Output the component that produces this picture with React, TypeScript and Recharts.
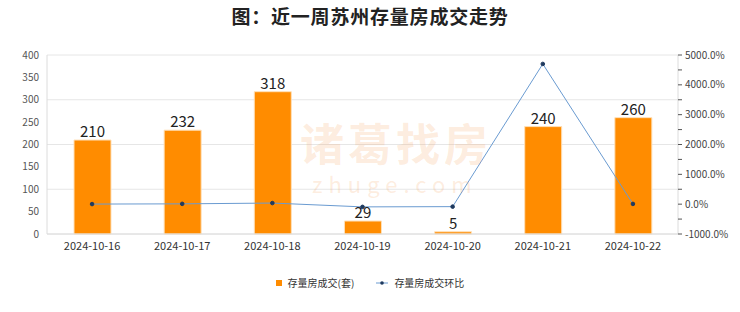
import {
  Bar,
  CartesianGrid,
  ComposedChart,
  LabelList,
  Legend,
  Line,
  XAxis,
  YAxis,
} from "recharts";

const dates = ["2024-10-16", "2024-10-17", "2024-10-18", "2024-10-19", "2024-10-20", "2024-10-21", "2024-10-22"];
const deals = [210, 232, 318, 29, 5, 240, 260];
const changes = [3, 10.5, 37.1, -90.9, -82.8, 4700, 8.3];

const leftTicks = [0, 50, 100, 150, 200, 250, 300, 350, 400];
const rightTicks = [-1000, -500, 0, 500, 1000, 1500, 2000, 2500, 3000, 3500, 4000, 4500, 5000];

const data = dates.map((date, i) => ({ date, deals: deals[i], change: changes[i] }));

const FONT = '"Noto Sans CJK SC", "Noto Sans", sans-serif';
const MARK = "rgba(246, 160, 90, 0.2)";

function LegendContent() {
  return (
    <div style={{ display: "flex", justifyContent: "center", gap: 22, fontSize: 10, color: "#333", fontFamily: FONT }}>
      <span style={{ display: "flex", alignItems: "center", gap: 6 }}>
        <span style={{ width: 6, height: 6, background: "#FF8C00", display: "inline-block" }} />
        存量房成交(套)
      </span>
      <span style={{ display: "flex", alignItems: "center", gap: 6 }}>
        <svg width={12} height={6}>
          <line x1={0} y1={3} x2={12} y2={3} stroke="#6A9BD1" strokeWidth={1} />
          <circle cx={6} cy={3} r={1.8} fill="#1F3A5F" />
        </svg>
        存量房成交环比
      </span>
    </div>
  );
}

export default function App() {
  return (
    <div style={{ position: "absolute", left: 0, top: 0, width: 740, height: 312, background: "#fff", fontFamily: FONT }}>
      <div
        style={{
          position: "absolute",
          top: 2,
          width: 740,
          textAlign: "center",
          fontSize: 19,
          fontWeight: 700,
          letterSpacing: 0.8,
          color: "#222",
        }}
      >
        图：近一周苏州存量房成交走势
      </div>
      <ComposedChart width={740} height={312} data={data} margin={{ top: 55, right: 0, bottom: 39, left: 0 }}>
        <CartesianGrid vertical={false} stroke="#e6e6e6" yAxisId="left" />
        <XAxis
          dataKey="date"
          tickLine={false}
          axisLine={{ stroke: "#dcdcdc" }}
          tick={{ fontSize: 11, fill: "#333", fontFamily: FONT }}
          height={24}
        />
        <YAxis
          yAxisId="left"
          domain={[0, 400]}
          ticks={leftTicks}
          width={47}
          tickLine={false}
          axisLine={{ stroke: "#dcdcdc" }}
          tick={{ fontSize: 10, fill: "#555", fontFamily: FONT }}
        />
        <YAxis
          yAxisId="right"
          orientation="right"
          domain={[-1000, 5000]}
          ticks={rightTicks}
          width={62}
          tickSize={4}
          tickLine={{ stroke: "#555" }}
          axisLine={{ stroke: "#dcdcdc" }}
          tickFormatter={(v: number) => (v % 1000 === 0 ? `${v}.0%` : "")}
          tick={{ fontSize: 10, fill: "#444", fontFamily: FONT, dx: 1 }}
        />
        <Legend verticalAlign="bottom" content={<LegendContent />} wrapperStyle={{ bottom: 22 }} />
        <Bar yAxisId="left" dataKey="deals" name="存量房成交(套)" fill="#FF8C00" stroke="#FFE0B8" strokeWidth={1} barSize={37} isAnimationActive={false}>
          <LabelList dataKey="deals" position="top" offset={3} style={{ fontSize: 15, fill: "#222", fontFamily: FONT }} />
        </Bar>
        <Line
          yAxisId="right"
          dataKey="change"
          name="存量房成交环比"
          stroke="#6A9BD1"
          strokeWidth={1}
          dot={{ r: 1.8, fill: "#1F3A5F", stroke: "#1F3A5F" }}
          isAnimationActive={false}
        />
      </ComposedChart>
      <div
        style={{
          position: "absolute",
          left: 300,
          top: 120,
          fontSize: 44,
          lineHeight: "44px",
          fontWeight: 700,
          color: MARK,
          letterSpacing: 4,
          pointerEvents: "none",
        }}
      >
        诸葛找房
      </div>
      <div
        style={{
          position: "absolute",
          left: 312,
          top: 172,
          fontSize: 22,
          lineHeight: "22px",
          color: MARK,
          letterSpacing: 6,
          pointerEvents: "none",
        }}
      >
        zhuge.com
      </div>
    </div>
  );
}
